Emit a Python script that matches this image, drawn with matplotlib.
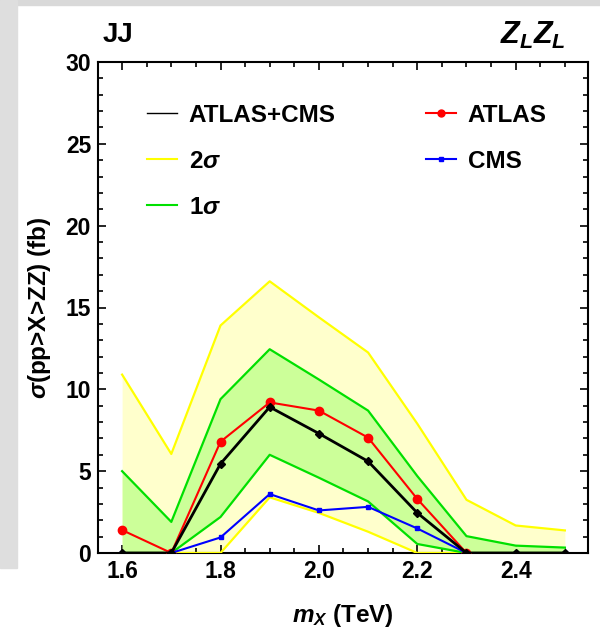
import matplotlib
matplotlib.use('Agg')
import matplotlib.pyplot as plt
from matplotlib.patches import Rectangle
from matplotlib.ticker import MultipleLocator

plt.rcParams['font.family'] = 'Liberation Sans'
plt.rcParams['font.weight'] = 'bold'
plt.rcParams['axes.labelweight'] = 'bold'
plt.rcParams['mathtext.fontset'] = 'custom'
plt.rcParams['mathtext.rm'] = 'Liberation Sans:bold'
plt.rcParams['mathtext.it'] = 'Liberation Sans:italic:bold'
plt.rcParams['mathtext.bf'] = 'Liberation Sans:bold'

# mass points (TeV)
mx = [1.6, 1.7, 1.8, 1.9, 2.0, 2.1, 2.2, 2.3, 2.4, 2.5]

# expected bands
two_sig_hi = [10.9, 6.05, 13.9, 16.6, 14.4, 12.25, 7.9, 3.25, 1.68, 1.38]
two_sig_lo = [0.0, 0.0, 0.0, 3.4, 2.45, 1.3, 0.0, 0.0, 0.0, 0.0]
one_sig_hi = [5.0, 1.9, 9.4, 12.45, 10.6, 8.7, 4.7, 1.03, 0.45, 0.33]
one_sig_lo = [0.0, 0.0, 2.2, 6.0, 4.6, 3.15, 0.55, 0.0, 0.0, 0.0]

# measured
atlas = [1.4, 0.0, 6.8, 9.2, 8.7, 7.05, 3.3, 0.0]
cms = [0.0, 0.0, 0.95, 3.6, 2.6, 2.82, 1.5, 0.0, 0.0, 0.0]
combined = [0.0, 0.0, 5.45, 8.92, 7.3, 5.6, 2.45, 0.0, 0.0, 0.0]

xtick_labels = ['1.6', '1.8', '2.0', '2.2', '2.4']

fig = plt.figure(figsize=(6, 6.3), dpi=100)
# screenshot-like grey border
fig.add_artist(Rectangle((0, 1 - 5 / 630), 1, 5 / 630, transform=fig.transFigure,
                         color='#d9d9d9', zorder=0))
fig.add_artist(Rectangle((0, 1 - 568 / 630), 17 / 600, 568 / 630, transform=fig.transFigure,
                         color='#dedede', zorder=0))

ax = fig.add_axes([98 / 600, 1 - 553 / 630, 490 / 600, 491 / 630])

ax.fill_between(mx, two_sig_lo, two_sig_hi, color='#ffffcc', lw=0, zorder=1)
ax.fill_between(mx, one_sig_lo, one_sig_hi, color='#ccff99', lw=0, zorder=2)
ax.plot(mx, two_sig_hi, color='#ffff00', lw=1.6, zorder=3)
ax.plot(mx, two_sig_lo, color='#ffff00', lw=1.6, zorder=3)
ax.plot(mx, one_sig_hi, color='#00e000', lw=1.6, zorder=4)
ax.plot(mx, one_sig_lo, color='#00e000', lw=1.6, zorder=4)

ax.plot(mx[:len(atlas)], atlas, color='#ff0000', lw=1.5, marker='o', ms=6, zorder=5)
ax.plot(mx, cms, color='#0000ff', lw=1.5, marker='s', ms=3.5, zorder=6)
ax.plot(mx, combined, color='black', lw=2, marker='D', ms=4, zorder=7)

h_comb, = ax.plot([], [], color='black', lw=1)
h_2s, = ax.plot([], [], color='#ffff00', lw=1.5)
h_1s, = ax.plot([], [], color='#00e000', lw=1.5)
h_atlas, = ax.plot([], [], color='#ff0000', lw=1.5, marker='o', ms=5)
h_cms, = ax.plot([], [], color='#0000ff', lw=1.5, marker='s', ms=3.5)

ax.legend([h_comb, h_2s, h_1s, h_atlas, h_cms],
          ['ATLAS+CMS', r'2$\sigma$', r'1$\sigma$', 'ATLAS', 'CMS'],
          ncol=2, frameon=False, loc='upper left', bbox_to_anchor=(0.055, 0.96),
          prop={'size': 17.5, 'weight': 'bold'}, handlelength=1.23, handletextpad=0.5,
          labelspacing=0.95, columnspacing=3.7, numpoints=1)

ax.set_xlim(1.551, 2.547)
ax.set_ylim(0, 30)
ax.xaxis.set_major_locator(MultipleLocator(0.2))
ax.xaxis.set_minor_locator(MultipleLocator(0.05))
ax.yaxis.set_major_locator(MultipleLocator(5))
ax.yaxis.set_minor_locator(MultipleLocator(1))
ax.tick_params(which='both', direction='in', top=True, right=True, width=1.2)
ax.tick_params(which='major', length=6, labelsize=16.5, pad=5)
ax.tick_params(which='minor', length=3.5)
ax.set_xticks([1.6, 1.8, 2.0, 2.2, 2.4])
ax.set_xticklabels(xtick_labels)
for lab in ax.get_xticklabels() + ax.get_yticklabels():
    lab.set_fontweight('bold')
for s in ax.spines.values():
    s.set_linewidth(1.5)

ax.set_xlabel(r'$m_X$ (TeV)', fontsize=17.5, fontweight='bold', labelpad=14)
ax.set_ylabel(r'$\sigma$(pp>X>ZZ) (fb)', fontsize=17.5, fontweight='bold', labelpad=9)

fig.text(103 / 600, 1 - 35 / 630, 'JJ', fontsize=20, fontweight='bold', va='center', ha='left')
fig.text(566 / 600, 1 - 35 / 630, r'$Z_L Z_L$', fontsize=22, va='center', ha='right')

fig.savefig('out.png', dpi=100)
